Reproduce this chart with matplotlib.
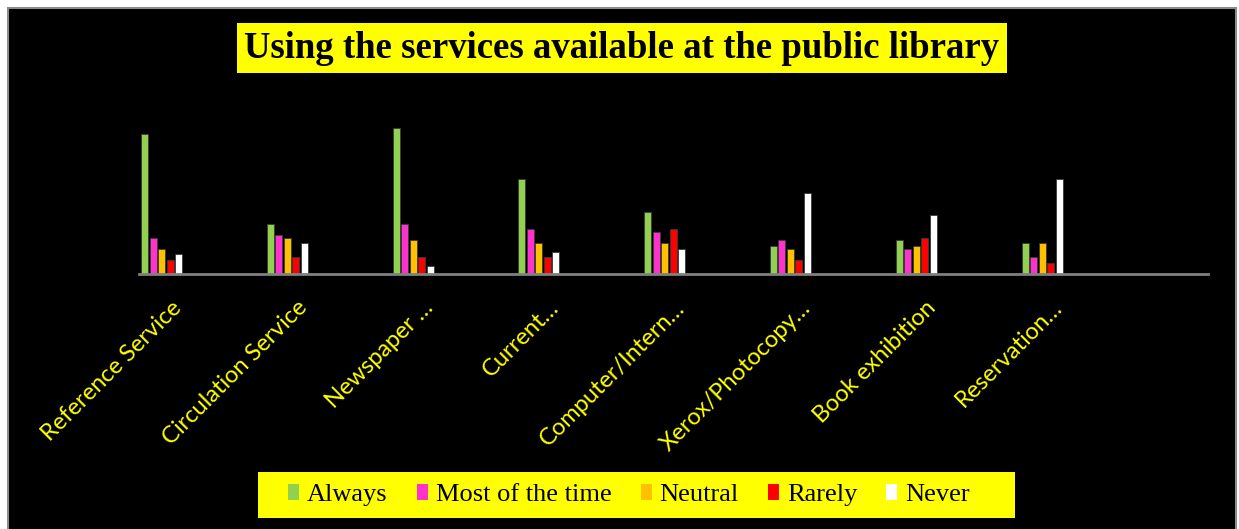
import numpy as np
import matplotlib.pyplot as plt
from matplotlib.patches import Rectangle

# Survey responses per library service
services = ['Reference Service', 'Circulation Service', 'Newspaper \u2026', 'Current\u2026',
            'Computer/Intern\u2026', 'Xerox/Photocopy\u2026', 'Book exhibition', 'Reservation\u2026']
responses = ['Always', 'Most of the time', 'Neutral', 'Rarely', 'Never']
always = [50, 18, 52, 34, 22, 10, 12, 11]
most_of_time = [13, 14, 18, 16, 15, 12, 9, 6]
neutral = [9, 13, 12, 11, 11, 9, 10, 11]
rarely = [5, 6, 6, 6, 16, 5, 13, 4]
never = [7, 11, 3, 8, 9, 29, 21, 34]
colors = ['#92D050', '#FF33CC', '#FFC000', '#FF0000', '#FFFFFF']

W, H = 1239, 529
fig = plt.figure(figsize=(W / 100, H / 100), dpi=100)
fig.patch.set_facecolor('white')
fig.patches.append(Rectangle((8 / W, -0.02), 1228 / W, 521 / H + 0.02, transform=fig.transFigure,
                             facecolor='black', edgecolor='#8c8c8c', linewidth=1.5, zorder=-1))

ax = fig.add_axes([139 / W, 1 - 274 / H, 1069 / W, 174 / H])
ax.patch.set_alpha(0)

x = np.arange(len(services))
step, width = 0.0676, 0.0556
for j, (vals, c) in enumerate(zip([always, most_of_time, neutral, rarely, never], colors)):
    ax.bar(x + j * step, vals, width=width, align='edge', color=c,
           edgecolor='#3a3a3a', linewidth=0.6, label=responses[j], zorder=2)

ax.set_xlim(-0.016, 8.482)
ax.set_ylim(0, 174 / 2.8)
for s in ['top', 'right', 'left']:
    ax.spines[s].set_visible(False)
ax.spines['bottom'].set_color('#808080')
ax.spines['bottom'].set_linewidth(2)
ax.set_yticks([])
ax.set_xticks(x + 0.236)
ax.set_xticklabels(services, rotation=45, ha='right', va='top', rotation_mode='anchor',
                   color='#FFFF00', fontsize=17, family='Lato')
ax.tick_params(axis='x', length=0, pad=16.5)

# Title in a yellow box
fig.text(622 / W, 1 - 48 / H, 'Using the services available at the public library',
         ha='center', va='center', fontsize=26.5, fontweight='bold', family='Liberation Serif',
         color='black',
         bbox=dict(boxstyle='square,pad=0.2', facecolor='#FFFF00', edgecolor='none'))

# Legend sits on its own yellow panel
fig.patches.append(Rectangle((258 / W, 1 - 518 / H), 757 / W, 46 / H, transform=fig.transFigure,
                             facecolor='#FFFF00', edgecolor='none', zorder=1))
leg = fig.legend(loc='center', bbox_to_anchor=(629 / W, 1 - 495 / H), ncol=5,
                 frameon=False, handlelength=0.42, handleheight=0.55, handletextpad=0.3,
                 columnspacing=1.1, borderpad=0, borderaxespad=0,
                 prop={'family': 'Liberation Serif', 'size': 19})
leg.set_zorder(3)
for h in leg.legend_handles:
    h.set_edgecolor('none')

plt.savefig('out.png', dpi=100, facecolor=fig.get_facecolor())
